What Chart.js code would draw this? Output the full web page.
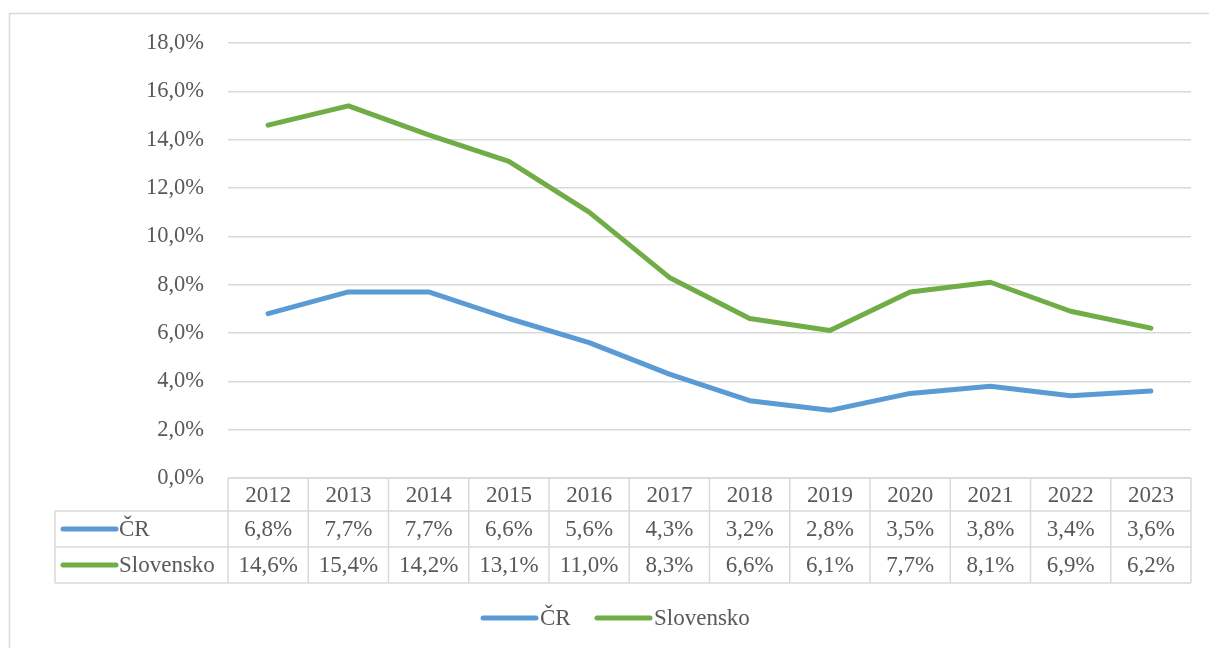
<!DOCTYPE html>
<html>
<head>
<meta charset="utf-8">
<script src="https://cdn.jsdelivr.net/npm/chart.js@4.4.0/dist/chart.umd.min.js"></script>
<style>
  html, body { margin: 0; padding: 0; background: #fff; }
  #wrap { width: 1209px; height: 648px; position: relative; }
</style>
</head>
<body>
<div id="wrap"><canvas id="rateChart"></canvas></div>
<script>
// data
var years = ["2012", "2013", "2014", "2015", "2016", "2017", "2018", "2019", "2020", "2021", "2022", "2023"];
var seriesNames = ["ČR", "Slovensko"];
var crValues = [6.8, 7.7, 7.7, 6.6, 5.6, 4.3, 3.2, 2.8, 3.5, 3.8, 3.4, 3.6];
var skValues = [14.6, 15.4, 14.2, 13.1, 11.0, 8.3, 6.6, 6.1, 7.7, 8.1, 6.9, 6.2];

var blue = '#5b9bd5';
var green = '#70ad47';
var textColor = '#595959';
var lineGrey = '#d9d9d9';
var fontFamily = '"Liberation Serif", "Times New Roman", serif';
var font = '23px ' + fontFamily;

function pct(v) {
    return v.toFixed(1).replace('.', ',') + '%';
}

// frame, data table under the plot and the bottom legend (Excel style)
var excelTable = {
    id: 'excelTable',
    beforeDraw: function(chart) {
        var ctx = chart.ctx;
        ctx.save();
        ctx.fillStyle = '#fff';
        ctx.fillRect(0, 0, chart.width, chart.height);
        ctx.strokeStyle = lineGrey;
        ctx.lineWidth = 1.5;
        ctx.strokeRect(9.5, 13.5, chart.width + 20, chart.height + 20);
        ctx.restore();
    },
    afterDraw: function(chart) {
        var ctx = chart.ctx;
        var area = chart.chartArea;
        var x = chart.scales.x;
        var colW = (area.right - area.left) / years.length;
        var top = area.bottom;
        var rowY = [top, top + 33, top + 69, top + 105];
        var labelLeft = 55;

        ctx.save();
        ctx.strokeStyle = lineGrey;
        ctx.lineWidth = 1.5;
        ctx.beginPath();
        ctx.moveTo(area.left, rowY[0]); ctx.lineTo(area.right, rowY[0]);
        for (var r = 1; r < rowY.length; r++) {
            ctx.moveTo(labelLeft, rowY[r]); ctx.lineTo(area.right, rowY[r]);
        }
        ctx.moveTo(labelLeft, rowY[1]); ctx.lineTo(labelLeft, rowY[3]);
        for (var c = 0; c <= years.length; c++) {
            var cx = area.left + c * colW;
            ctx.moveTo(cx, rowY[0]); ctx.lineTo(cx, rowY[3]);
        }
        ctx.stroke();

        ctx.font = font;
        ctx.fillStyle = textColor;
        ctx.textAlign = 'center';
        ctx.textBaseline = 'middle';
        var rows = [crValues, skValues];
        for (var i = 0; i < years.length; i++) {
            var px = x.getPixelForValue(i);
            ctx.fillText(years[i], px, (rowY[0] + rowY[1]) / 2 + 1);
            for (var k = 0; k < rows.length; k++) {
                ctx.fillText(pct(rows[k][i]), px, (rowY[k + 1] + rowY[k + 2]) / 2 + 1);
            }
        }

        // row headers with legend keys
        var colors = [blue, green];
        ctx.textAlign = 'left';
        ctx.lineCap = 'round';
        ctx.lineWidth = 5;
        for (var s = 0; s < seriesNames.length; s++) {
            var my = (rowY[s + 1] + rowY[s + 2]) / 2;
            ctx.strokeStyle = colors[s];
            ctx.beginPath();
            ctx.moveTo(63, my); ctx.lineTo(116, my);
            ctx.stroke();
            ctx.fillText(seriesNames[s], 119, my + 1);
        }

        // legend at the bottom
        var ly = 618;
        var keyX = [483, 597];
        for (var j = 0; j < seriesNames.length; j++) {
            ctx.strokeStyle = colors[j];
            ctx.beginPath(); ctx.moveTo(keyX[j], ly); ctx.lineTo(keyX[j] + 53, ly); ctx.stroke();
            ctx.fillText(seriesNames[j], keyX[j] + 57, ly + 1);
        }
        ctx.restore();
    }
};

var ctx = document.getElementById('rateChart').getContext('2d');
var rateChart = new Chart(ctx, {
    type: 'line',
    data: {
        labels: years,
        datasets: [{
            label: seriesNames[0],
            data: crValues,
            borderColor: blue,
            backgroundColor: blue,
            borderWidth: 5,
            pointRadius: 0,
            borderCapStyle: 'round',
            borderJoinStyle: 'round',
            tension: 0,
            fill: false
        }, {
            label: seriesNames[1],
            data: skValues,
            borderColor: green,
            backgroundColor: green,
            borderWidth: 5,
            pointRadius: 0,
            borderCapStyle: 'round',
            borderJoinStyle: 'round',
            tension: 0,
            fill: false
        }]
    },
    options: {
        responsive: true,
        maintainAspectRatio: false,
        animation: false,
        layout: {
            padding: { left: 0, right: 18, top: 43, bottom: 170 }
        },
        plugins: {
            legend: { display: false },
            tooltip: { enabled: false }
        },
        scales: {
            x: {
                display: false,
                offset: true
            },
            y: {
                min: 0,
                max: 18,
                afterFit: function(scale) { scale.width = 228; },
                border: { display: false },
                grid: { color: lineGrey, lineWidth: 1.5, drawTicks: false },
                ticks: {
                    stepSize: 2,
                    padding: 24,
                    color: textColor,
                    font: { family: fontFamily, size: 22.5 },
                    callback: function(v) { return pct(v); }
                }
            }
        }
    },
    plugins: [excelTable]
});
</script>
</body>
</html>
